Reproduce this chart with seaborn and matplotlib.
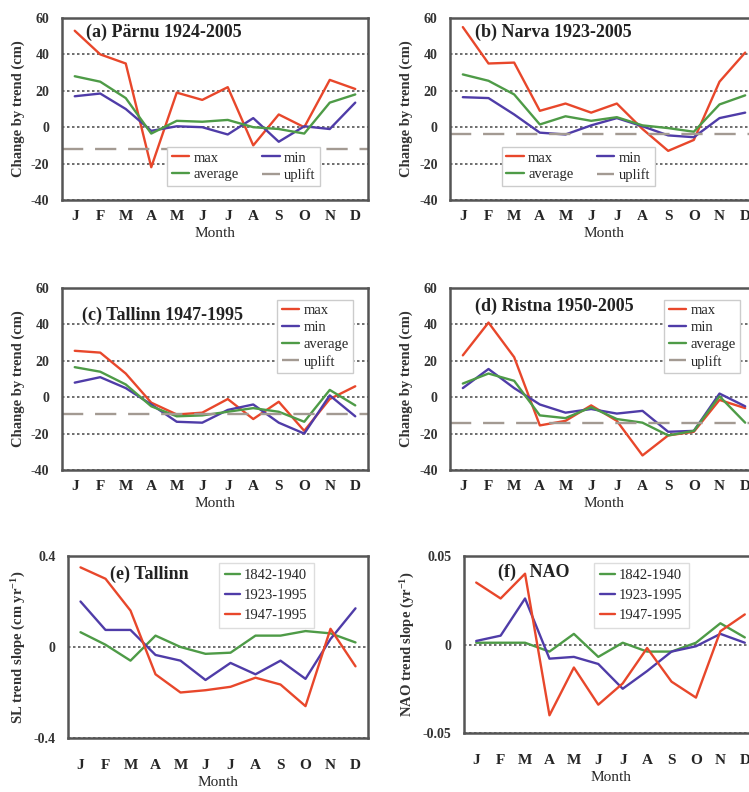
import numpy as np
import pandas as pd
import matplotlib
matplotlib.use("Agg")
import matplotlib.pyplot as plt
import seaborn as sns

months = ["J", "F", "M", "A", "M", "J", "J", "A", "S", "O", "N", "D"]

# (a) Parnu 1924-2005
parnu_max = [53, 40, 35, -22, 19, 15, 22, -10, 7, 0, 26, 21]
parnu_min = [17, 18.5, 10, -2, 0.5, 0, -4, 5, -8, 0.5, -1, 13.5]
parnu_avg = [28, 25, 16, -3.5, 3.5, 3, 4, 0, -1, -3.5, 13.5, 18]
parnu_uplift = -12

# (b) Narva 1923-2005
narva_max = [55, 35, 35.5, 9, 13, 8, 13, -1, -13, -7, 25, 41]
narva_min = [16.5, 16, 7, -3, -4, 1, 5, 0.5, -4.5, -5.5, 5, 8]
narva_avg = [29, 25.5, 18, 1.5, 6, 3.5, 5.5, 1, -0.5, -2.5, 12.5, 17.5]
narva_uplift = -4

# (c) Tallinn 1947-1995
tallinn_max = [25.5, 24.5, 13, -3, -9.5, -8.5, -1, -12, -2.5, -18.5, -1, 6]
tallinn_min = [8, 11, 5, -4, -13.5, -14, -7, -4, -14, -20, 1, -10.5]
tallinn_avg = [16.5, 14, 7, -5, -10.5, -10, -8, -6, -8, -13.5, 4, -4.5]
tallinn_uplift = -9

# (d) Ristna 1950-2005
ristna_max = [23, 41, 22, -15.5, -13, -4.5, -13, -32, -21, -19, -1.5, -6]
ristna_min = [5, 15.5, 5, -4, -8.5, -6.5, -9, -7.5, -19, -18.5, 2, -5]
ristna_avg = [7.5, 13, 9, -10, -11.5, -5.5, -12, -14, -21, -18.5, 0.5, -14]
ristna_uplift = -14

# (e) Tallinn SL trend slope
sl_1842 = [0.065, 0.01, -0.06, 0.05, 0.0, -0.03, -0.025, 0.05, 0.05, 0.07, 0.06, 0.02]
sl_1923 = [0.2, 0.075, 0.075, -0.035, -0.06, -0.145, -0.07, -0.12, -0.06, -0.14, 0.035, 0.17]
sl_1947 = [0.35, 0.3, 0.16, -0.12, -0.2, -0.19, -0.175, -0.135, -0.165, -0.26, 0.08, -0.085]

# (f) NAO trend slope
nao_1842 = [0.001, 0.001, 0.001, -0.004, 0.006, -0.007, 0.001, -0.004, -0.004, 0.001, 0.012, 0.004]
nao_1923 = [0.002, 0.005, 0.026, -0.008, -0.007, -0.011, -0.025, -0.015, -0.004, -0.001, 0.006, 0.001]
nao_1947 = [0.035, 0.026, 0.04, -0.04, -0.013, -0.034, -0.022, -0.002, -0.021, -0.030, 0.0075, 0.017]

RED = "#e8472b"
BLUE = "#4f3ca8"
GREEN = "#4e9b47"
UPLIFT = "#a39a92"

sns.set_style("white")
plt.rcParams["font.family"] = ["Liberation Serif", "DejaVu Serif"]
plt.rcParams["mathtext.fontset"] = "custom"
plt.rcParams["mathtext.rm"] = "Liberation Serif:bold"
plt.rcParams["mathtext.it"] = "Liberation Serif:bold"
plt.rcParams["mathtext.bf"] = "Liberation Serif:bold"

W, H = 749, 792
fig = plt.figure(figsize=(W / 100, H / 100), dpi=100)


def box(left, top, right, bottom):
    return [left / W, 1 - bottom / H, (right - left) / W, (bottom - top) / H]


def style_axes(ax, ylim, yticks, ylabels, ylabel, xpad):
    ax.set_xlim(-0.5, 11.5)
    ax.set_ylim(*ylim)
    ax.set_xticks(range(12))
    ax.set_xticklabels(months, fontsize=11, fontweight="bold")
    ax.set_yticks(yticks)
    ax.set_yticklabels(ylabels, fontsize=10, fontweight="bold", color="#333333")
    ax.tick_params(axis="both", length=0)
    ax.tick_params(axis="y", pad=9)
    ax.tick_params(axis="x", pad=xpad)
    ax.grid(axis="y", linestyle=(0, (1.5, 1.5)), color="#555555", linewidth=1.2)
    ax.grid(axis="x", visible=False)
    for s in ax.spines.values():
        s.set_color("#555555")
        s.set_linewidth(1.8)
    ax.set_xlabel("Month", fontsize=11, labelpad=3)
    ax.set_ylabel(ylabel, fontsize=10.5, fontweight="bold", color="#333333", labelpad=4)


def station_panel(pos, title, tpos, vmax, vmin, vavg, uplift, legend_kw, order):
    ax = fig.add_axes(pos)
    x = np.arange(12)
    sns.lineplot(x=x, y=vmax, color=RED, lw=1.7, label="max", ax=ax)
    sns.lineplot(x=x, y=vmin, color=BLUE, lw=1.7, label="min", ax=ax)
    sns.lineplot(x=x, y=vavg, color=GREEN, lw=1.7, label="average", ax=ax)
    ax.axhline(uplift, color=UPLIFT, lw=1.7, dashes=(9, 5), label="uplift")
    style_axes(ax, (-40, 60), [-40, -20, 0, 20, 40, 60],
               ["-40", "-20", "0", "20", "40", "60"], "Change by trend (cm)", 7)
    ax.text(tpos[0], tpos[1], title, transform=ax.transAxes, fontsize=13,
            fontweight="bold", va="center", color="#222222")
    h, l = ax.get_legend_handles_labels()
    h = [h[i] for i in order]
    l = [l[i] for i in order]
    leg = ax.legend(h, l, fontsize=10.5, handlelength=1.2, handletextpad=0.3,
                    borderpad=0.3, labelspacing=0.25, columnspacing=1.6,
                    framealpha=1, fancybox=False, **legend_kw)
    leg.get_frame().set_edgecolor("#cccccc")
    return ax


def slope_panel(pos, title, tpos, s1, s2, s3, ylim, yticks, ylabels, ylabel, legend_kw):
    ax = fig.add_axes(pos)
    x = np.arange(12)
    sns.lineplot(x=x, y=s1, color=GREEN, lw=1.7, label="1842-1940", ax=ax)
    sns.lineplot(x=x, y=s2, color=BLUE, lw=1.7, label="1923-1995", ax=ax)
    sns.lineplot(x=x, y=s3, color=RED, lw=1.7, label="1947-1995", ax=ax)
    style_axes(ax, ylim, yticks, ylabels, ylabel, 15)
    ax.text(tpos[0], tpos[1], title, transform=ax.transAxes, fontsize=13,
            fontweight="bold", va="center", color="#222222")
    leg = ax.legend(fontsize=10.5, handlelength=1.0, handletextpad=0.3,
                    borderpad=0.4, labelspacing=0.45, framealpha=1,
                    fancybox=False, **legend_kw)
    leg.get_frame().set_edgecolor("#dddddd")
    return ax


# matplotlib fills columns first: reorder so rows read max/min, average/uplift
two_col = [0, 2, 1, 3]

station_panel(box(62, 18, 368, 200), "(a) P\u00e4rnu 1924-2005", (0.08, 0.92),
              parnu_max, parnu_min, parnu_avg, parnu_uplift,
              dict(ncol=2, loc="lower left", bbox_to_anchor=(0.32, 0.035)), two_col)
station_panel(box(450, 18, 758, 200), "(b) Narva 1923-2005", (0.08, 0.92),
              narva_max, narva_min, narva_avg, narva_uplift,
              dict(ncol=2, loc="lower left", bbox_to_anchor=(0.145, 0.035)), two_col)
station_panel(box(62, 288, 368, 470), "(c) Tallinn 1947-1995", (0.065, 0.85),
              tallinn_max, tallinn_min, tallinn_avg, tallinn_uplift,
              dict(loc="upper right", bbox_to_anchor=(0.975, 0.975)), [0, 1, 2, 3])
station_panel(box(450, 288, 758, 470), "(d) Ristna 1950-2005", (0.08, 0.9),
              ristna_max, ristna_min, ristna_avg, ristna_uplift,
              dict(loc="upper left", bbox_to_anchor=(0.672, 0.975)), [0, 1, 2, 3])

slope_panel(box(68, 556, 368, 738), "(e) Tallinn", (0.14, 0.9),
            sl_1842, sl_1923, sl_1947, (-0.4, 0.4), [-0.4, 0, 0.4],
            ["-0.4", "0", "0.4"], r"SL trend slope (cm yr$^{-1}$)",
            dict(loc="upper left", bbox_to_anchor=(0.48, 1.0)))
slope_panel(box(464, 556, 757, 733), "(f)   NAO", (0.116, 0.91),
            nao_1842, nao_1923, nao_1947, (-0.05, 0.05), [-0.05, 0, 0.05],
            ["-0.05", "0", "0.05"], r"NAO trend slope (yr$^{-1}$)",
            dict(loc="upper left", bbox_to_anchor=(0.42, 1.0)))

fig.savefig("out.png", dpi=100)
